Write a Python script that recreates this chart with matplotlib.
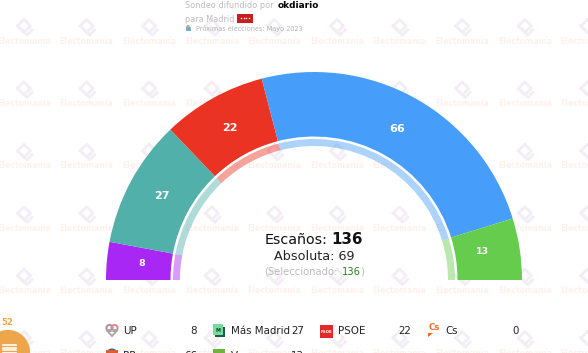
import numpy as np
from matplotlib import pyplot as plt
from matplotlib.patches import Wedge, Circle, Rectangle, Polygon

arc_names = ['UP', 'Más Madrid', 'PSOE', 'PP', 'Vox']
arc_seats = [8, 27, 22, 66, 13]
arc_colors = ['#A927F5', '#52B0AB', '#EA3323', '#469EFA', '#66CC4E']

legend_row1 = ['UP', 'Más Madrid', 'PSOE', 'Cs']
legend_row1_seats = [8, 27, 22, 0]
legend_row2 = ['PP', 'Vox']
legend_row2_seats = [66, 13]

total_seats = 136
absoluta = 69
seleccionado = 136
pending = 52

W, H = 588, 353
cx, cy = 314, 280


def Y(y):
    # pixel rows come from the top
    return H - y


fig = plt.figure(figsize=(W / 100, H / 100), dpi=100)
ax = fig.add_axes([0, 0, 1, 1])
ax.set_xlim(0, W)
ax.set_ylim(0, H)
ax.axis('off')

# watermark grid
for row in range(6):
    wy = 41 + row * 62.4
    for col in range(10):
        wx = 24 + col * 62.6
        ax.text(wx, Y(wy), 'Electomanía', fontsize=5.6, fontweight='bold', color='#FEF1EC',
                ha='center', va='center', zorder=1)
        lx, ly = wx, wy - 15
        d = 6.5
        ax.plot([lx - d, lx, lx + d, lx, lx - d], Y(np.array([ly, ly - d, ly, ly + d, ly])),
                color='#F3EDF6', lw=2, zorder=1)
        ax.plot([lx - 3, lx + 3, lx + 8], Y(np.array([ly + 3, ly + 9, ly + 4])),
                color='#F3EDF6', lw=2, zorder=1)

# hemicycle
cum = np.cumsum([0] + arc_seats)
for i, col in enumerate(arc_colors):
    a2 = 180 - cum[i] / total_seats * 180
    a1 = 180 - cum[i + 1] / total_seats * 180
    ax.add_patch(Wedge((cx, Y(cy)), 208, a1, a2, width=64.5, fc=col, ec='none', zorder=3))
    ax.add_patch(Wedge((cx, Y(cy)), 141, a1, a2, width=7, fc=col, ec='none', alpha=0.45, zorder=3))

seat_label_xy = [(142, 263), (162, 196), (230, 128), (397, 129), (482, 252)]
for (x, y), s in zip(seat_label_xy, arc_seats):
    ax.text(x, Y(y), str(s), color='white', fontsize=8 if s > 13 else 6.8, fontweight='bold',
            ha='center', va='center', zorder=4)

# center text
ax.text(265, Y(240), 'Escaños:', fontsize=10.3, color='#111111', ha='left', va='center', zorder=5)
ax.text(363, Y(240), str(total_seats), fontsize=10.8, fontweight='bold', color='#111111',
        ha='right', va='center', zorder=5)
ax.text(274, Y(257), 'Absoluta: ' + str(absoluta), fontsize=9.2, color='#222222', ha='left', va='center', zorder=5)
ax.text(264, Y(272), '(Seleccionado:', fontsize=7.2, color='#BBBBBB', ha='left', va='center', zorder=5)
ax.text(342, Y(272), str(seleccionado), fontsize=7.2, color='#2E7D22', ha='left', va='center', zorder=5)
ax.text(360.5, Y(272), ')', fontsize=7.2, color='#BBBBBB', ha='left', va='center', zorder=5)

# header
ax.text(185, Y(6), 'Sondeo difundido por', fontsize=5.9, color='#BDBDBD', ha='left', va='center')
ax.text(278, Y(6), 'okdiario', fontsize=6.4, fontweight='bold', color='#000000', ha='left', va='center')
ax.text(185, Y(19), 'para Madrid', fontsize=5.9, color='#BDBDBD', ha='left', va='center')
ax.add_patch(Rectangle((237, Y(23)), 16, 9.5, fc='#C4201F', ec='none', zorder=3))
ax.scatter([241, 243.5, 246, 248.5], [Y(18)] * 4, s=1.2, c='white', linewidths=0, zorder=4)
ax.text(196, Y(28), 'Próximas elecciones: Mayo 2023', fontsize=4.7, color='#B5B5B5', ha='left', va='center')
ax.add_patch(Rectangle((185.5, Y(30.5)), 5, 4, fc='#6FAFCF', ec='none', zorder=3))
ax.add_patch(Circle((188, Y(26.5)), 1.6, fc='#C9A27A', ec='none', zorder=3))

# legend text
row1_y = 331
row2_y = 356
name_x = [123, 231, 338, 445]
num_x = [197, 304, 411, 519]
for n, s, x, x2 in zip(legend_row1, legend_row1_seats, name_x, num_x):
    ax.text(x, Y(row1_y), n, fontsize=7.4, color='#222222', ha='left', va='center', zorder=5)
    ax.text(x2, Y(row1_y), str(s), fontsize=7.4, color='#222222', ha='right', va='center', zorder=5)
for n, s, x, x2 in zip(legend_row2, legend_row2_seats, name_x, num_x):
    ax.text(x, Y(row2_y), n, fontsize=7.4, color='#222222', ha='left', va='center', zorder=5)
    ax.text(x2, Y(row2_y), str(s), fontsize=7.4, color='#222222', ha='right', va='center', zorder=5)

# legend icons
ax.add_patch(Circle((109.5, Y(328)), 3.1, fc='none', ec='#B58BA6', lw=1.4, zorder=4))
ax.add_patch(Circle((114.5, Y(328)), 3.1, fc='none', ec='#D98A8A', lw=1.4, zorder=4))
ax.add_patch(Polygon([(106.5, Y(330)), (112, Y(336)), (117.5, Y(330))], closed=True,
                     fc='none', ec='#A8A8A8', lw=1.4, zorder=4))
ax.add_patch(Rectangle((215, Y(337)), 10, 10, fc='#1F5C45', ec='none', zorder=4))
ax.add_patch(Rectangle((213, Y(335)), 10, 11, fc='#74DC9C', ec='none', zorder=5))
ax.text(218, Y(330), 'M', fontsize=3.6, color='#14402F', fontweight='bold', ha='center', va='center', zorder=6)
ax.add_patch(Rectangle((320, Y(337.5)), 13, 13, fc='#E3282A', ec='none', zorder=4))
ax.text(326.5, Y(332), 'PSOE', fontsize=2.8, color='white', fontweight='bold', ha='center', va='center', zorder=5)
ax.text(434, Y(327), 'Cs', fontsize=6.2, color='#EE6A2B', fontweight='bold', ha='center', va='center', zorder=5)
ax.add_patch(Polygon([(428, Y(333)), (433, Y(333)), (428, Y(337))], closed=True, fc='#EE6A2B', ec='none', zorder=5))
ax.add_patch(Circle((112, Y(355)), 6.5, fc='#3A5FA5', ec='none', zorder=4))
ax.add_patch(Rectangle((106, Y(353)), 12, 3.5, fc='#D9602F', ec='none', zorder=5))
ax.add_patch(Rectangle((213, Y(361)), 12, 12, fc='#6CB33F', ec='none', zorder=4))

# floating button
ax.text(7, Y(322.5), str(pending), fontsize=6.2, fontweight='bold', color='#EDA64B', ha='center', va='center', zorder=5)
ax.add_patch(Circle((8, Y(352)), 23, fc='#F3F3F3', ec='none', zorder=3))
ax.add_patch(Circle((8, Y(352)), 22, fc='#EDA64B', ec='none', zorder=4))
for ly in [345, 347.5, 350, 352.5]:
    ax.plot([3, 16], [Y(ly), Y(ly)], color='white', lw=1.2, zorder=5)

fig.savefig('out.png', dpi=100)
